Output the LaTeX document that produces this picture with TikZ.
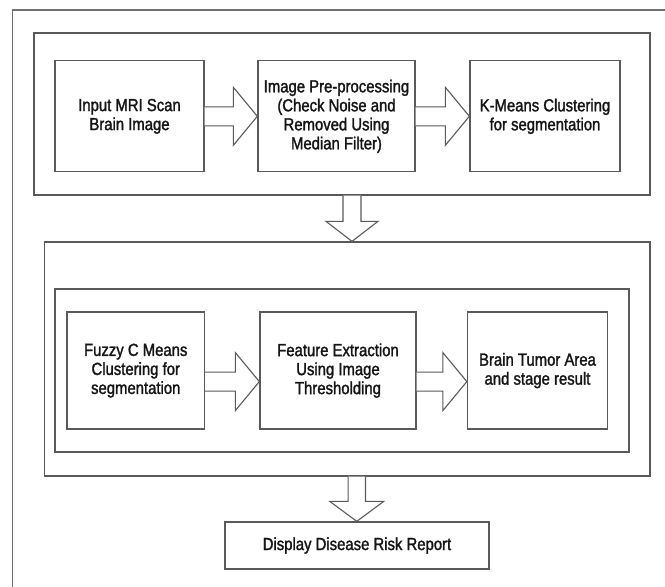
\documentclass[tikz,border=0pt]{standalone}
\usepackage{fontspec}
\usetikzlibrary{calc}
\newfontfamily\diagfont{Liberation Sans}[FakeStretch=0.85,FakeBold=1.6]
\definecolor{linegray}{HTML}{5A5A5A}
\definecolor{framegray}{HTML}{707070}
\definecolor{txt}{HTML}{151515}
\tikzset{
  stepbox/.style={draw=linegray, line width=1.3pt, rectangle, inner sep=0pt,
    align=center, text=txt, font=\diagfont\fontsize{17.5}{19}\selectfont},
  groupbox/.style={draw=linegray, line width=1.3pt, rectangle, inner sep=0pt},
  blockarr/.style={draw=linegray, line width=1.1pt, fill=white, line join=miter},
}
% horizontal block arrow: from node #1 to node #2, vertical offset #3
\newcommand{\harrow}[3]{%
  \draw[blockarr] ($(#1.east)+(0,#3-9.5)$) -- ($(#2.west)+(-24,#3-9.5)$)
     -- ($(#2.west)+(-24,#3-29)$) -- ($(#2.west)+(0,#3)$)
     -- ($(#2.west)+(-24,#3+29)$) -- ($(#2.west)+(-24,#3+9.5)$)
     -- ($(#1.east)+(0,#3+9.5)$);}
\begin{document}
\begin{tikzpicture}[x=1pt,y=-1pt]
\useasboundingbox (0,0) rectangle (665,587);
% outer frame (open on right and bottom)
\draw[framegray, line width=1.6pt] (665,10) -- (12.5,10) -- (12.5,587);
% group 1
\node[groupbox, minimum width=616pt, minimum height=162pt] (g1) at (342,114) {};
\node[stepbox, minimum width=149pt, minimum height=111pt] (b1) at (129.5,116.3) {Input MRI Scan\\Brain Image};
\node[stepbox, minimum width=157pt, minimum height=111pt] (b2) at (336.5,116.3) {Image Pre-processing\\(Check Noise and\\Removed Using\\Median Filter)};
\node[stepbox, minimum width=150pt, minimum height=111pt] (b3) at (545,116.3) {K-Means Clustering\\for segmentation};
\harrow{b1}{b2}{0}
\harrow{b2}{b3}{0}
% group 2
\node[groupbox, minimum width=605.5pt, minimum height=234pt] (g2) at (347.25,359) {};
\node[groupbox, minimum width=574pt, minimum height=163pt] (g2i) at (342,370.5) {};
\node[stepbox, minimum width=137.5pt, minimum height=117pt] (b4) at (135.75,370.6) {Fuzzy C Means\\Clustering for\\segmentation};
\node[stepbox, minimum width=156pt, minimum height=117pt] (b5) at (338,370.6) {Feature Extraction\\Using Image\\Thresholding};
\node[stepbox, minimum width=140pt, minimum height=117pt] (b6) at (537.5,370.6) {Brain Tumor Area\\and stage result};
\harrow{b4}{b5}{11}
\harrow{b5}{b6}{11}
% final report
\node[stepbox, minimum width=264pt, minimum height=47pt] (rep) at (357,545.5) {Display Disease Risk Report};
% down arrow 1
\coordinate (d1) at ($(g1.south)+(10,0)$);
\coordinate (t1) at (d1 |- g2.north);
\draw[blockarr] ($(d1)+(-9,0)$) -- ($(t1)+(-9,-20)$) -- ($(t1)+(-26,-20)$) -- (t1)
  -- ($(t1)+(26,-20)$) -- ($(t1)+(9,-20)$) -- ($(d1)+(9,0)$);
% down arrow 2
\coordinate (d2) at ($(g2.south)+(9.5,0)$);
\coordinate (t2) at (d2 |- rep.north);
\draw[blockarr] ($(d2)+(-8.7,0)$) -- ($(t2)+(-8.7,-20)$) -- ($(t2)+(-27,-20)$) -- (t2)
  -- ($(t2)+(27,-20)$) -- ($(t2)+(8.7,-20)$) -- ($(d2)+(8.7,0)$);
\end{tikzpicture}
\end{document}
